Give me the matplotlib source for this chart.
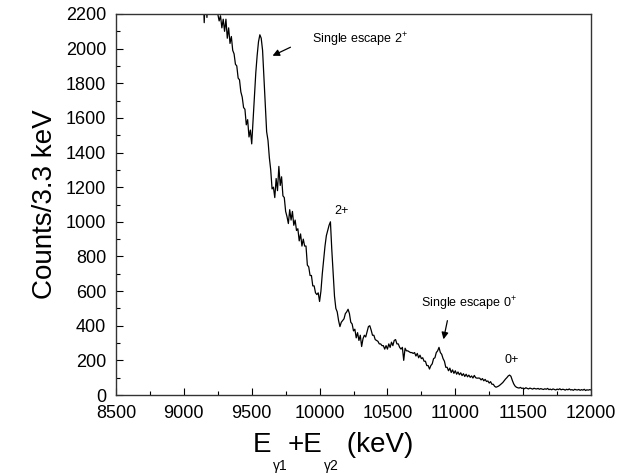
import numpy as np
import matplotlib
matplotlib.use("Agg")
import matplotlib.pyplot as plt
from matplotlib.ticker import MultipleLocator

plt.rcParams['font.family'] = ['Liberation Sans', 'DejaVu Sans']
plt.rcParams['mathtext.fontset'] = 'custom'
plt.rcParams['mathtext.rm'] = 'Liberation Sans'
plt.rcParams['mathtext.it'] = 'Liberation Sans:italic'

# Energy bins (keV), 10 keV steps starting at 9100
energy_start = 9100
energy_step = 10
counts = [
    # 9100-9190
    2480, 2450, 2420, 2400, 2370, 2150, 2340, 2180, 2310, 2290,
    # 9200-9290
    2280, 2260, 2270, 2230, 2240, 2200, 2160, 2190, 2120, 2170,
    # 9300-9390
    2100, 2170, 2060, 2120, 2030, 2070, 1990, 1970, 1910, 1900,
    # 9400-9490
    1830, 1820, 1750, 1720, 1660, 1650, 1560, 1590, 1490, 1530,
    # 9500-9590
    1450, 1590, 1720, 1860, 1960, 2040, 2080, 2060, 1990, 1830,
    # 9600-9690
    1660, 1520, 1470, 1370, 1300, 1190, 1200, 1140, 1250, 1180,
    # 9700-9790
    1320, 1210, 1260, 1150, 1140, 1060, 1030, 990, 1070, 1010,
    # 9800-9890
    1060, 980, 1010, 950, 960, 890, 930, 860, 900, 860,
    # 9900-9990
    860, 750, 740, 690, 690, 630, 630, 590, 580, 590,
    # 10000-10090
    540, 600, 700, 780, 860, 920, 950, 980, 1000, 840,
    # 10100-10190
    700, 570, 500, 480, 430, 395, 420, 430, 440, 470,
    # 10200-10290
    480, 495, 470, 420, 410, 370, 380, 330, 360, 315,
    # 10300-10390
    345, 280, 325, 345, 335, 365, 395, 400, 375, 345,
    # 10400-10490
    345, 320, 315, 310, 295, 295, 285, 285, 265, 285,
    # 10500-10590
    265, 295, 275, 305, 285, 315, 320, 295, 295, 275,
    # 10600-10690
    265, 275, 200, 270, 255, 255, 250, 245, 245, 240,
    # 10700-10790
    245, 225, 240, 215, 230, 210, 215, 195, 195, 170,
    # 10800-10890
    170, 150, 170, 180, 210, 215, 245, 255, 275, 245,
    # 10900-10990
    235, 210, 195, 160, 160, 140, 155, 130, 145, 125,
    # 11000-11090
    140, 120, 133, 117, 128, 112, 123, 107, 120, 105,
    # 11100-11190
    115, 102, 110, 98, 113, 100, 97, 98, 97, 87,
    # 11200-11290
    95, 82, 90, 78, 81, 69, 77, 62, 62, 50,
    # 11300-11390
    45, 48, 52, 58, 65, 72, 82, 92, 100, 110,
    # 11400-11490
    115, 108, 85, 65, 52, 45, 42, 40, 44, 38,
    # 11500-11590
    40, 36, 42, 38, 35, 40, 37, 34, 39, 36,
    # 11600-11690
    35, 38, 33, 37, 34, 32, 36, 33, 38, 31,
    # 11700-11790
    34, 30, 35, 32, 29, 34, 31, 36, 30, 33,
    # 11800-11890
    32, 28, 33, 30, 35, 29, 31, 27, 33, 30,
    # 11900-11990
    29, 32, 27, 31, 28, 33, 26, 30, 28, 31,
    # 12000
    29,
]
energy = energy_start + energy_step * np.arange(len(counts))

x_ticks = [8500, 9000, 9500, 10000, 10500, 11000, 11500, 12000]
y_ticks = [0, 200, 400, 600, 800, 1000, 1200, 1400, 1600, 1800, 2000, 2200]

fig = plt.figure(figsize=(6.3, 4.76), dpi=100)
ax = fig.add_axes([116/630, 1-395/476, (591-116)/630, (395-14)/476])

ax.plot(energy, counts, color='black', lw=0.9)

ax.set_xlim(8500, 12000)
ax.set_ylim(0, 2200)
ax.set_xticks(x_ticks)
ax.set_yticks(y_ticks)
ax.xaxis.set_minor_locator(MultipleLocator(250))
ax.yaxis.set_minor_locator(MultipleLocator(100))
ax.tick_params(which='major', direction='in', length=5, width=0.8, labelsize=13,
               top=False, right=False)
ax.tick_params(axis='x', which='major', pad=7)
ax.tick_params(axis='y', which='major', pad=7)
ax.tick_params(which='minor', direction='in', length=3, width=0.8,
               top=False, right=False)
for s in ax.spines.values():
    s.set_linewidth(1.0)
    s.set_color('#333333')

ax.set_ylabel('Counts/3.3 keV', fontsize=20, labelpad=6)

# x-axis label built from pieces: large E, small low subscripts
big, small = 20, 10
t1 = fig.text(253/630, 1-452/476, 'E', fontsize=big, va='baseline', ha='left')
t2 = ax.annotate('\u03b31', xy=(1, 0), xycoords=t1, xytext=(1, -1),
                 textcoords='offset points', fontsize=small, va='top',
                 ha='left', annotation_clip=False)
t3 = ax.annotate('+E', xy=(1, 0), xycoords=(t2, t1), xytext=(0, 0),
                 textcoords='offset points', fontsize=big, va='bottom',
                 ha='left', annotation_clip=False)
t4 = ax.annotate('\u03b32', xy=(1, 0), xycoords=t3, xytext=(1, -1),
                 textcoords='offset points', fontsize=small, va='top',
                 ha='left', annotation_clip=False)
t5 = ax.annotate(' (keV)', xy=(1, 0), xycoords=(t4, t1), xytext=(0, 0),
                 textcoords='offset points', fontsize=big, va='bottom',
                 ha='left', annotation_clip=False)

# annotations
ax.annotate('', xy=(9635, 1952), xytext=(9804, 2015),
            arrowprops=dict(arrowstyle='-|>', color='black', lw=0.9,
                            mutation_scale=10))
ax.text(9944, 2050, r'Single escape 2$^{+}$', fontsize=9, va='center', ha='left')
ax.text(10165, 1062, '2+', fontsize=9, va='center', ha='center')
ax.text(10747, 525, r'Single escape 0$^{+}$', fontsize=9, va='center', ha='left')
ax.annotate('', xy=(10909, 306), xytext=(10946, 445),
            arrowprops=dict(arrowstyle='-|>', color='black', lw=0.9,
                            mutation_scale=10))
ax.text(11418, 202, '0+', fontsize=9, va='center', ha='center')

fig.savefig('out.png', dpi=100)
